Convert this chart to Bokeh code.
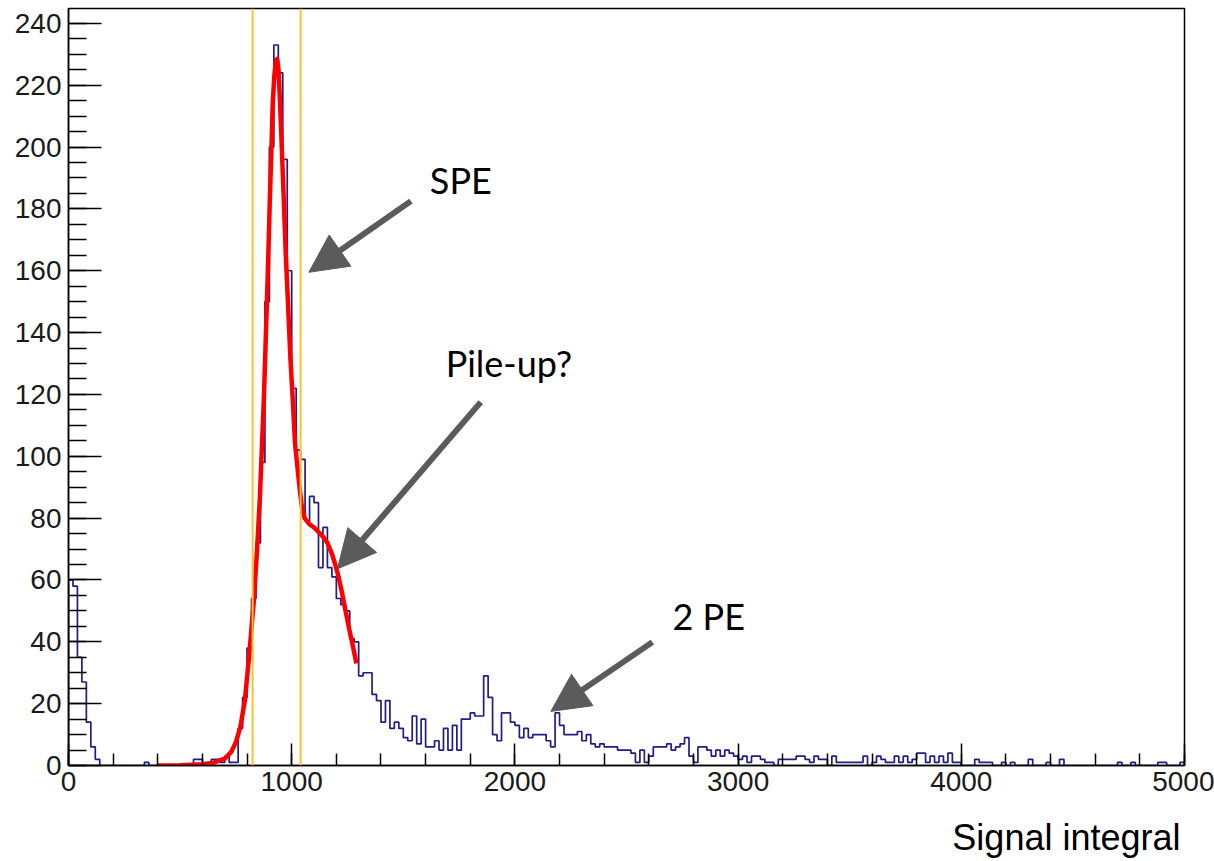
from bokeh.plotting import figure
from bokeh.models import Span, Arrow, NormalHead, Label, Title, SingleIntervalTicker
from bokeh.embed import file_html
from bokeh.resources import INLINE
import numpy as np

# ---------------- data ----------------
x_min, x_max = 0, 5000
bin_width = 20
counts = [
    60, 58, 35, 27, 14, 6, 2, 0, 0, 0,
    0, 0, 0, 0, 0, 0, 0, 1, 0, 0,
    0, 0, 0, 0, 0, 0, 0, 0, 2, 2,
    0, 0, 2, 2, 1, 3, 1, 1, 12, 22,
    38, 54, 72, 98, 150, 200, 233, 224, 196, 160,
    122, 102, 99, 79, 87, 85, 64, 77, 64, 61,
    54, 52, 50, 41, 40, 29, 30, 30, 23, 21,
    14, 21, 12, 14, 12, 9, 8, 16, 7, 15,
    6, 6, 8, 5, 12, 5, 13, 5, 15, 15,
    17, 16, 16, 29, 22, 10, 8, 17, 17, 14,
    13, 9, 12, 9, 10, 10, 10, 8, 6, 17,
    13, 10, 10, 10, 11, 8, 10, 7, 6, 7,
    6, 6, 6, 5, 5, 5, 4, 1, 5, 1,
    3, 6, 6, 6, 7, 5, 6, 7, 9, 3,
    1, 6, 6, 5, 3, 5, 3, 5, 4, 3,
    2, 3, 1, 3, 3, 2, 1, 1, 0, 2,
    2, 2, 2, 3, 3, 2, 1, 3, 2, 2,
    0, 3, 1, 1, 1, 1, 1, 1, 3, 0,
    1, 3, 2, 1, 1, 3, 1, 3, 1, 2,
    4, 4, 1, 3, 1, 3, 1, 4, 1, 1,
    0, 0, 0, 2, 1, 1, 1, 0, 0, 1,
    0, 1, 0, 0, 0, 2, 0, 0, 0, 1,
    0, 0, 2, 0, 0, 0, 0, 0, 0, 0,
    0, 0, 0, 0, 0, 1, 0, 0, 1, 0,
    0, 0, 0, 0, 1, 1, 0, 0, 0, 1,
]

fit_x = [400, 500, 600, 650, 700, 730, 750, 770, 790, 810, 830, 845, 857, 866,
         875, 882, 889, 896, 902, 909, 915, 922, 929, 935, 941, 948, 956, 964,
         973, 983, 994, 1005, 1015, 1025, 1035, 1045, 1058, 1080, 1100, 1120,
         1140, 1160, 1180, 1195, 1210, 1225, 1240, 1255, 1270, 1290]
fit_y = [0, 0.1, 0.4, 0.9, 2.2, 4.5, 7.5, 12.5, 21, 36, 53, 70, 86, 102,
         118, 134, 150, 167, 183, 199, 214, 223, 228, 228.5, 225, 214, 199, 184,
         166, 150, 132, 118, 104, 97, 90, 84, 80, 78, 77, 75.5,
         74, 72, 68.5, 65, 61, 56, 50.5, 45, 40, 33]

window_lines = [825, 1040]

annotations = [
    # text, text x, text y, arrow start x, start y, arrow end x, end y
    ("SPE", 1619, 189.5, 1534, 182.5, 1077, 159.5),
    ("Pile-up?", 1690, 130.0, 1847, 117.5, 1205, 63.6),
    ("2 PE", 2706, 48.5, 2616, 39.9, 2161, 17.5),
]

x_title = "Signal integral"

# -------------- figure ---------------
p = figure(width=1214, height=861, x_range=(x_min, x_max), y_range=(0, 244.8),
           output_backend="svg", toolbar_location=None,
           min_border_left=68, min_border_right=30, min_border_top=8,
           min_border_bottom=96)
p.title.visible = False
p.background_fill_color = "white"
p.border_fill_color = "white"
p.outline_line_color = "black"
p.outline_line_width = 1.5
p.xgrid.visible = False
p.ygrid.visible = False

# histogram outline built from the counts
edges = np.arange(x_min, x_max + bin_width, bin_width)
hx = [edges[0]]
hy = [0]
for i, c in enumerate(counts):
    hx += [edges[i], edges[i + 1]]
    hy += [c, c]
hx.append(edges[len(counts)])
hy.append(0)
p.line(hx, hy, line_color="#1e1e86", line_width=1.7)

# fit curve
p.line(fit_x, fit_y, line_color="#ff0000", line_width=4.5, line_join="round")

# integration window
for loc in window_lines:
    p.add_layout(Span(location=loc, dimension="height", line_color="#f4c430",
                      line_width=2))

# annotations
gray = "#5b5b5b"
for txt, tx, ty, xs, ys, xe, ye in annotations:
    p.add_layout(Arrow(end=NormalHead(size=38, fill_color=gray, line_color=gray,
                                      line_width=1),
                       x_start=xs, y_start=ys, x_end=xe, y_end=ye,
                       line_color=gray, line_width=6))
    p.add_layout(Label(x=tx, y=ty, text=txt, text_font="Lato",
                       text_font_size="36px", text_color="black",
                       text_baseline="alphabetic", text_align="left"))

# axes
p.xaxis.ticker = SingleIntervalTicker(interval=1000, num_minor_ticks=5)
p.yaxis.ticker = SingleIntervalTicker(interval=20, num_minor_ticks=4)
for ax in (p.xaxis[0], p.yaxis[0]):
    ax.axis_line_color = "black"
    ax.axis_line_width = 1.5
    ax.major_tick_line_color = "black"
    ax.minor_tick_line_color = "black"
    ax.major_tick_line_width = 1.5
    ax.minor_tick_line_width = 1.5
    ax.major_tick_out = 0
    ax.minor_tick_out = 0
    ax.major_label_text_font = "Liberation Sans"
    ax.major_label_text_font_size = "28px"
    ax.major_label_text_color = "#1a1a1a"
p.xaxis.major_tick_in = 22
p.xaxis.minor_tick_in = 12
p.yaxis.major_tick_in = 33
p.yaxis.minor_tick_in = 18
p.xaxis.major_label_standoff = 6
p.yaxis.major_label_standoff = 7

# blank spacer between tick labels and the x-axis title
p.add_layout(Title(text=" ", text_font_size="8px", standoff=9), "below")
# x-axis title, right aligned below the axis labels
p.add_layout(Title(text=x_title, align="right", text_font="Liberation Sans",
                   text_font_size="36px", text_font_style="normal",
                   text_color="black", offset=4, standoff=2), "below")

open("out.html", "w").write(file_html(p, INLINE))
